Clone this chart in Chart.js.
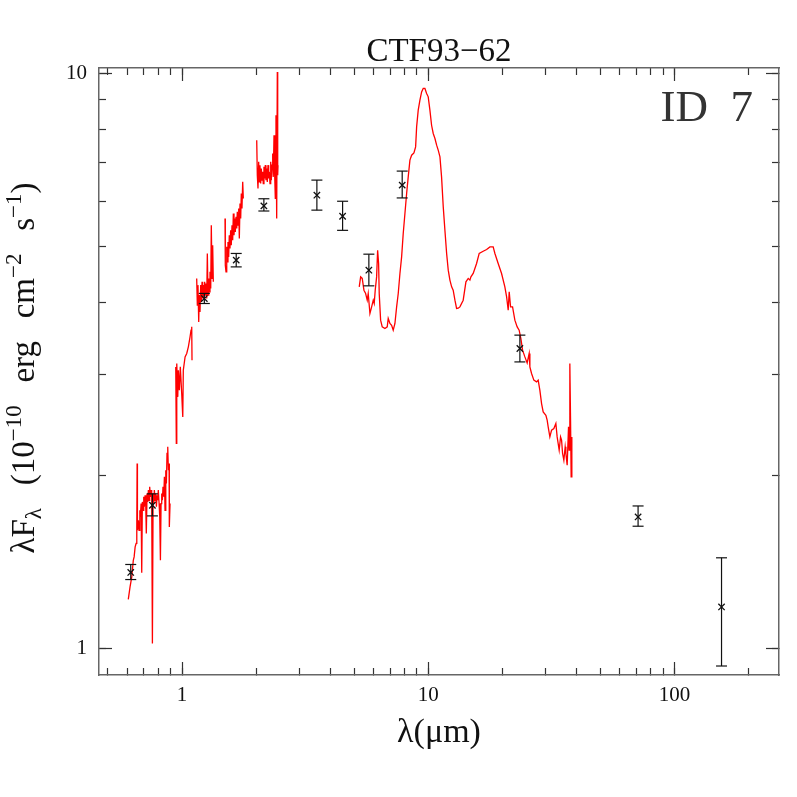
<!DOCTYPE html>
<html>
<head>
<meta charset="utf-8">
<title>CTF93-62 SED</title>
<script src="https://cdn.jsdelivr.net/npm/chart.js"></script>
<style>
  html, body { margin: 0; padding: 0; background: #fff; overflow: hidden; }
  canvas { display: block; }
</style>
</head>
<body>
<canvas id="sed" width="797" height="797"></canvas>
<script>
// photometry: wavelength (micron), lambda*F_lambda (1e-10 erg cm-2 s-1) and error bar ends
const photWave = [0.619, 0.758, 1.232, 1.66, 2.15, 3.53, 4.49, 5.74, 7.84, 23.57, 71.2, 155.4];
const photFlux = [1.357, 1.776, 4.064, 4.740, 5.89, 6.148, 5.65, 4.553, 6.40, 3.327, 1.695, 1.182];
const photLow  = [1.319, 1.702, 3.984, 4.613, 5.77, 5.79, 5.34, 4.276, 6.08, 3.153, 1.633, 0.933];
const photHigh = [1.401, 1.859, 4.148, 4.868, 6.06, 6.53, 6.00, 4.854, 6.77, 3.510, 1.771, 1.439];

// spectrum pieces (red)
const optWave = [0.605,0.615,0.625,0.634,0.639,0.645,0.651,0.655,0.657,0.659,0.665,0.669,0.674,0.677,0.682,0.686,0.690,0.695,0.699,0.703,
  0.708,0.712,0.716,0.721,0.726,0.730,0.735,0.739,0.744,0.749,0.753,0.758,0.763,0.768,0.772,0.777,0.782,0.787,0.792,0.797,
  0.801,0.807,0.812,0.817,0.822,0.827,0.832,0.837,0.843,0.848,0.853,0.859,0.864,0.869,0.875,0.880,0.886,0.888,0.894];
const optFlux = [1.218,1.281,1.333,1.425,1.444,1.503,1.524,1.628,2.100,1.607,1.673,1.607,1.741,1.695,1.788,1.355,1.800,1.741,1.837,1.765,
  1.849,1.788,1.586,1.862,1.800,1.887,1.812,1.912,1.837,1.887,1.837,1.021,1.862,1.788,1.887,1.812,1.862,1.765,1.849,1.812,
  1.887,1.788,1.695,1.425,1.788,1.862,1.812,1.912,1.837,1.990,1.741,2.044,1.938,2.185,2.244,2.044,2.100,1.628,1.788];

const zWave = [0.943,0.948,0.952,0.961,0.966,0.975,0.984,0.997,1.007,1.012,1.029,1.045,1.061,1.078,1.088,1.095,1.098];
const zFlux = [3.091,2.275,3.133,2.741,3.050,2.816,3.091,2.779,2.530,3.050,3.217,3.261,3.349,3.486,3.580,3.628,3.175];

const jWave = [1.147,1.154,1.161,1.169,1.175,1.183,1.191,1.198,1.206,1.213,1.220,1.228,1.236,1.243,1.251,1.260,1.267,1.275,1.284,1.291,
  1.299,1.308,1.315,1.324,1.332,1.340];
const jFlux = [4.405,3.957,4.288,3.701,4.120,3.852,4.288,4.010,4.345,4.064,4.288,4.064,4.345,4.120,4.317,4.064,4.868,4.120,4.405,4.174,
  4.522,4.231,5.452,4.405,5.031,4.345];

const hWave = [1.495,1.499,1.509,1.519,1.527,1.537,1.547,1.556,1.566,1.576,1.585,1.596,1.606,1.616,1.626,1.637,1.646,1.657,1.668,1.677,
  1.688,1.699,1.709,1.720,1.731,1.741,1.752,1.764,1.774];
const hFlux = [5.600,4.645,4.522,4.998,4.706,5.099,4.802,5.237,4.966,5.343,5.031,5.452,5.133,5.713,5.237,5.600,5.307,5.636,5.381,5.750,
  5.452,5.829,5.168,5.947,5.600,6.190,5.829,6.484,6.067];

const kWave = [2.011,2.022,2.035,2.048,2.060,2.073,2.087,2.099,2.113,2.126,2.138,2.152,2.167,2.179,2.193,2.208,2.220,2.235,2.249,2.262,
  2.277,2.292,2.305,2.320,2.335,2.348,2.364,2.379,2.393,2.408,2.424,2.438,2.447,2.454];
const kFlux = [7.661,6.660,6.314,7.025,6.484,6.933,6.442,6.842,6.529,6.750,6.442,6.886,6.573,6.933,6.529,6.842,6.484,6.933,6.573,6.750,
  6.442,7.025,6.529,6.933,7.264,6.615,7.817,6.660,6.067,8.470,5.600,10.07,6.660,6.933];

const irsWave = [5.246,5.315,5.395,5.482,5.569,5.653,5.706,5.798,5.891,5.980,6.035,6.092,6.172,6.231,6.288,6.324,6.407,6.504,6.671,6.816,
  6.880,6.990,7.102,7.209,7.325,7.442,7.555,7.676,7.798,7.916,8.043,8.172,8.295,8.428,8.563,8.749,8.889,8.973,9.108,9.254,
  9.402,9.544,9.696,9.852,10.00,10.16,10.32,10.48,10.65,10.82,10.98,11.16,11.33,11.51,11.69,11.88,12.06,12.25,12.45,12.63,
  12.84,13.04,13.24,13.45,13.87,14.23,14.54,14.77,14.91,15.23,15.72,16.11,16.72,17.27,17.81,18.36,18.66,19.24,19.86,20.48,
  20.82,21.13,21.33,21.60,22.01,22.49,22.98,23.41,23.79,24.17,24.70,25.23,25.71,25.88,26.29,26.86,27.55,27.97,28.41,28.87,
  29.31,30.06,30.42,30.71,31.20,31.70,32.39,33.00,33.40,34.04,34.48,34.81,35.14,35.56,36.00,36.24,36.68,37.15,37.37,37.61,
  37.86,38.07,38.32];
const irsFlux = [4.258,4.432,4.405,4.202,4.147,4.037,4.147,3.828,3.930,4.037,3.984,4.202,4.432,4.932,4.677,4.147,3.727,3.628,3.605,3.628,
  3.752,3.678,3.652,3.580,3.678,3.930,4.147,4.493,4.802,5.273,5.713,6.190,6.615,7.073,7.215,7.282,7.459,8.080,8.642,8.995,
  9.297,9.425,9.425,9.239,9.115,8.642,8.134,7.870,7.714,7.510,7.362,7.166,6.615,5.866,5.343,4.868,4.553,4.375,4.258,4.202,
  4.037,3.906,3.910,3.930,4.037,4.345,4.405,4.375,4.432,4.493,4.677,4.868,4.912,4.946,4.998,4.998,4.868,4.677,4.493,4.258,
  4.091,3.879,4.174,3.930,3.930,3.727,3.628,3.580,3.463,3.305,3.217,3.141,3.261,3.091,3.010,2.931,2.911,2.931,2.816,2.669,
  2.581,2.547,2.497,2.431,2.335,2.399,2.415,2.464,2.335,2.214,2.335,2.305,2.185,2.127,2.244,2.185,2.085,2.431,2.214,3.133,
  2.497,1.990,2.335];

// axes
const xMin = 0.46, xMax = 266;
const yMin = 0.9, yMax = 10.23;
const xTickValues = [0.5,0.6,0.7,0.8,0.9,1,2,3,4,5,6,7,8,9,10,20,30,40,50,60,70,80,90,100,200];
const xMajorValues = [1, 10, 100];
const yTickValues = [1,2,3,4,5,6,7,8,9,10];
const yMajorValues = [1, 10];

const yTitleParts = [
  {text: 'λF', shift: 0}, {text: 'λ', shift: -1}, {gap: true},
  {text: '(10', shift: 0}, {text: '−10', shift: 1}, {gap: true},
  {text: 'erg', shift: 0}, {gap: true},
  {text: 'cm', shift: 0}, {text: '−2', shift: 1}, {gap: true},
  {text: 's', shift: 0}, {text: '−1', shift: 1}, {text: ')', shift: 0}
];

const tickColor = '#333';
const frameColor = '#666';
const serif = '"Liberation Serif", "Times New Roman", serif';

Chart.defaults.font.family = serif;
Chart.defaults.color = '#111';

function pairs(w, f) {
  return w.map((x, i) => ({x: x, y: f[i]}));
}

function spectrum(w, f) {
  return {
    type: 'line',
    data: pairs(w, f),
    borderColor: '#ff0000',
    borderWidth: 1.3,
    pointRadius: 0,
    tension: 0,
    order: 3
  };
}

// lo/hi ends of each error bar, broken by a null so every bar is its own segment
function errorBarPoints() {
  const pts = [];
  photWave.forEach((w, i) => {
    pts.push({x: w, y: photLow[i]}, {x: w, y: photHigh[i]}, {x: w, y: null});
  });
  return pts;
}

function useTicks(values) {
  return scale => { scale.ticks = values.map(v => ({value: v})); };
}

// zero-size scales just to draw the frame and inward tick marks
function edgeScale(axis, position, values, tickLength, border) {
  return {
    type: 'logarithmic',
    axis: axis,
    position: position,
    weight: 0,
    min: axis === 'x' ? xMin : yMin,
    max: axis === 'x' ? xMax : yMax,
    afterBuildTicks: useTicks(values),
    afterFit: s => { if (axis === 'x') s.height = 0; else s.width = 0; },
    grid: {drawOnChartArea: false, tickLength: tickLength, tickColor: tickColor, tickWidth: 1.2},
    border: {display: border, color: frameColor, width: 1.5},
    ticks: {display: false, autoSkip: false}
  };
}

const idPlugin = {
  id: 'sedLabels',
  afterDraw(chart) {
    const ctx = chart.ctx;
    const big = '33px ' + serif;
    const small = '23px ' + serif;
    const yTitleLength = 371;

    ctx.save();
    ctx.fillStyle = '#111';
    ctx.textBaseline = 'alphabetic';
    ctx.textAlign = 'left';
    const widths = yTitleParts.map(p => {
      if (p.gap) return 0;
      ctx.font = p.shift ? small : big;
      return ctx.measureText(p.text).width;
    });
    const textW = widths.reduce((a, b) => a + b, 0);
    const gapCount = yTitleParts.filter(p => p.gap).length;
    const gapW = Math.max(8, (yTitleLength - textW) / gapCount);
    ctx.translate(34, 368);
    ctx.rotate(-Math.PI / 2);
    let x = -yTitleLength / 2;
    yTitleParts.forEach((p, i) => {
      if (p.gap) { x += gapW; return; }
      ctx.font = p.shift ? small : big;
      ctx.fillText(p.text, x, p.shift > 0 ? -13 : (p.shift < 0 ? 7 : 0));
      x += widths[i];
    });
    ctx.restore();

    ctx.save();
    ctx.fillStyle = '#333';
    ctx.font = '45px ' + serif;
    ctx.textAlign = 'right';
    ctx.textBaseline = 'alphabetic';
    ctx.fillText('ID  7', 753, 121);
    ctx.restore();
  }
};

new Chart(document.getElementById('sed'), {
  type: 'scatter',
  data: {
    datasets: [
      {
        data: pairs(photWave, photFlux),
        pointStyle: 'crossRot',
        pointRadius: 4.5,
        pointBorderColor: '#111',
        pointBorderWidth: 1.3,
        showLine: false,
        order: 0
      },
      {
        type: 'line',
        data: errorBarPoints(),
        borderColor: '#111',
        borderWidth: 1.2,
        pointStyle: 'line',
        pointRadius: 5.5,
        pointBorderColor: '#111',
        pointBorderWidth: 1.2,
        spanGaps: false,
        tension: 0,
        order: 1
      },
      spectrum(optWave, optFlux),
      spectrum(zWave, zFlux),
      spectrum(jWave, jFlux),
      spectrum(hWave, hFlux),
      spectrum(kWave, kFlux),
      spectrum(irsWave, irsFlux)
    ]
  },
  options: {
    responsive: false,
    animation: false,
    devicePixelRatio: 1,
    events: [],
    layout: {padding: {left: 0, right: 18, top: 0, bottom: 0}},
    plugins: {
      legend: {display: false},
      tooltip: {enabled: false},
      title: {
        display: true,
        text: 'CTF93−62',
        fullSize: false,
        color: '#111',
        font: {size: 33, weight: 'normal', lineHeight: 1.0},
        padding: {top: 36, bottom: -1}
      }
    },
    scales: {
      x: {
        type: 'logarithmic',
        position: 'bottom',
        weight: 1,
        min: xMin,
        max: xMax,
        afterBuildTicks: useTicks(xTickValues),
        afterFit: s => { s.height = 122; },
        grid: {drawOnChartArea: false, tickLength: -7, tickColor: tickColor, tickWidth: 1.2},
        border: {display: true, color: frameColor, width: 1.5},
        ticks: {
          autoSkip: false,
          maxRotation: 0,
          padding: 15,
          color: '#111',
          font: {size: 21},
          callback: v => xMajorValues.includes(v) ? String(v) : ''
        },
        title: {
          display: true,
          text: 'λ(μm)',
          color: '#111',
          font: {size: 34},
          padding: {top: 0, bottom: 44}
        }
      },
      y: {
        type: 'logarithmic',
        position: 'left',
        weight: 1,
        min: yMin,
        max: yMax,
        afterBuildTicks: useTicks(yTickValues),
        afterFit: s => { s.width = 99; },
        grid: {drawOnChartArea: false, tickLength: -7, tickColor: tickColor, tickWidth: 1.2},
        border: {display: true, color: frameColor, width: 1.5},
        ticks: {
          autoSkip: false,
          padding: 19,
          color: '#111',
          font: {size: 21},
          callback: v => yMajorValues.includes(v) ? String(v) : ''
        }
      },
      xMajor: edgeScale('x', 'bottom', xMajorValues, -13, false),
      xTop: edgeScale('x', 'top', xTickValues, -7, true),
      xTopMajor: edgeScale('x', 'top', xMajorValues, -13, false),
      yMajor: edgeScale('y', 'left', yMajorValues, -13, false),
      yRight: edgeScale('y', 'right', yTickValues, -7, true),
      yRightMajor: edgeScale('y', 'right', yMajorValues, -13, false)
    }
  },
  plugins: [idPlugin]
});
</script>
</body>
</html>
